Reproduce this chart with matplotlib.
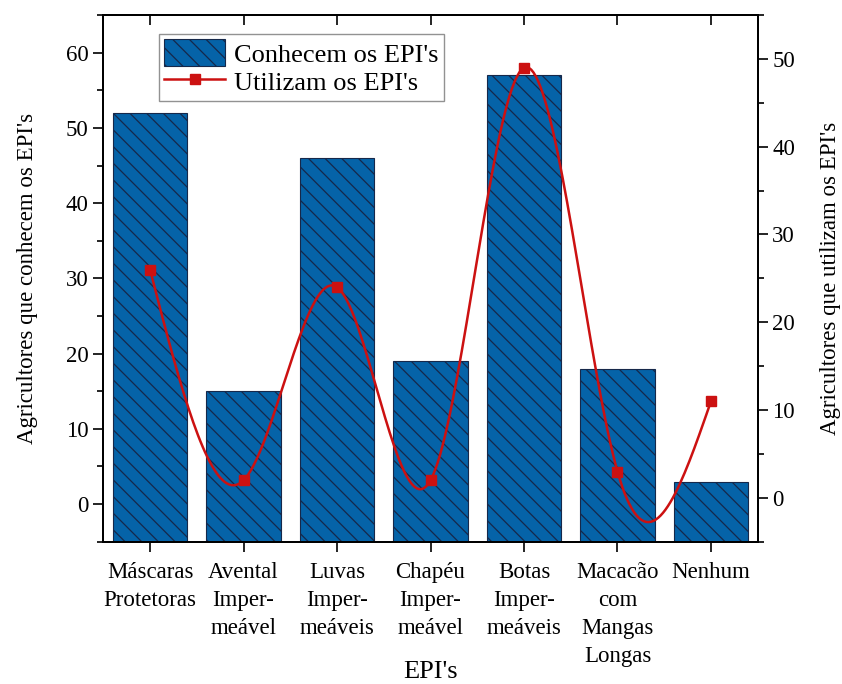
import numpy as np
import matplotlib
matplotlib.use("Agg")
import matplotlib.pyplot as plt
from matplotlib.ticker import MultipleLocator

# dados
categorias = ["Máscaras\nProtetoras", "Avental\nImper-\nmeável", "Luvas\nImper-\nmeáveis",
              "Chapéu\nImper-\nmeável", "Botas\nImper-\nmeáveis", "Macacão\ncom\nMangas\nLongas",
              "Nenhum"]
conhecem = [52, 15, 46, 19, 57, 18, 3]
utilizam = [26, 2, 24, 2, 49, 3, 11]

plt.rcParams['font.family'] = ['Liberation Serif', 'DejaVu Serif']
plt.rcParams['hatch.linewidth'] = 0.9

azul = "#0563a8"
vermelho = "#cc1111"
base = -5  # barras começam no fundo do eixo


def spline_natural(y, n=40):
    # curva suave ligando os pontos (spline cúbica natural)
    y = np.asarray(y, dtype=float)
    N = len(y)
    A = np.zeros((N, N))
    b = np.zeros(N)
    A[0, 0] = 1
    A[-1, -1] = 1
    for i in range(1, N - 1):
        A[i, i - 1] = 1
        A[i, i] = 4
        A[i, i + 1] = 1
        b[i] = 6 * (y[i + 1] - 2 * y[i] + y[i - 1])
    M = np.linalg.solve(A, b)
    xs, ys = [], []
    for i in range(N - 1):
        t = np.linspace(0, 1, n)
        s = (M[i] * (1 - t) ** 3 / 6 + M[i + 1] * t ** 3 / 6
             + (y[i] - M[i] / 6) * (1 - t) + (y[i + 1] - M[i + 1] / 6) * t)
        xs.append(i + t)
        ys.append(s)
    return np.concatenate(xs), np.concatenate(ys)


x = np.arange(len(categorias))

fig = plt.figure(figsize=(8.42, 6.84), dpi=100)
ax = fig.add_axes([0.1227, 0.208, 0.7772, 0.770])

alturas = [v - base for v in conhecem]
ax.bar(x, alturas, bottom=base, width=0.8, color=azul, edgecolor="#16284a",
       linewidth=0.8, hatch="\\\\", label="Conhecem os EPI's")
ax.set_xlim(-0.5, 6.5)
ax.set_ylim(-5, 65)
ax.yaxis.set_major_locator(MultipleLocator(10))
ax.yaxis.set_minor_locator(MultipleLocator(5))
ax.set_xticks(x)
ax.set_xticklabels(categorias, fontsize=16.5, linespacing=1.45)
ax.set_xlabel("EPI's", fontsize=19)
ax.xaxis.set_label_coords(0.5, -0.226)
ax.set_ylabel("Agricultores que conhecem os EPI's", fontsize=16.5, labelpad=20)
ax.tick_params(axis='y', which='major', labelsize=16.5, length=7, width=1.2, direction='out')
ax.tick_params(axis='y', which='minor', length=4, width=1.2, direction='out')
ax.tick_params(axis='x', which='major', length=7, width=1.2, direction='out', pad=7.5)

ax2 = ax.twinx()
xs, ys = spline_natural(utilizam)
ax2.plot(xs, ys, color=vermelho, linewidth=1.8)
ax2.plot(x, utilizam, linestyle='none', marker='s', markersize=7, color=vermelho)
ax2.set_ylim(-5, 55)
ax2.yaxis.set_major_locator(MultipleLocator(10))
ax2.yaxis.set_minor_locator(MultipleLocator(5))
ax2.set_ylabel("Agricultores que utilizam os EPI's", fontsize=16.5, labelpad=18)
ax2.tick_params(axis='y', which='major', labelsize=16.5, length=7, width=1.2, direction='out')
ax2.tick_params(axis='y', which='minor', length=4, width=1.2, direction='out')

# ticks do topo para dentro
ax_top = ax.secondary_xaxis('top')
ax_top.set_xticks(x)
ax_top.tick_params(direction='in', length=7, width=1.2, labeltop=False)

for a in (ax, ax2):
    for sp in a.spines.values():
        sp.set_linewidth(1.4)
ax_top.spines['top'].set_linewidth(1.4)

linha = plt.Line2D([], [], color=vermelho, linewidth=1.8, marker='s', markersize=7)
barra = ax.patches[0]
leg = ax2.legend([barra, linha], ["Conhecem os EPI's", "Utilizam os EPI's"],
                 loc='upper left', bbox_to_anchor=(0.085, 0.964), borderaxespad=0,
                 fontsize=19, frameon=True, fancybox=False, edgecolor='#777777',
                 handlelength=2.3, handleheight=1.2, handletextpad=0.35,
                 borderpad=0.2, labelspacing=0.05)
leg.get_frame().set_linewidth(1.0)

fig.savefig("out.png", dpi=100)
